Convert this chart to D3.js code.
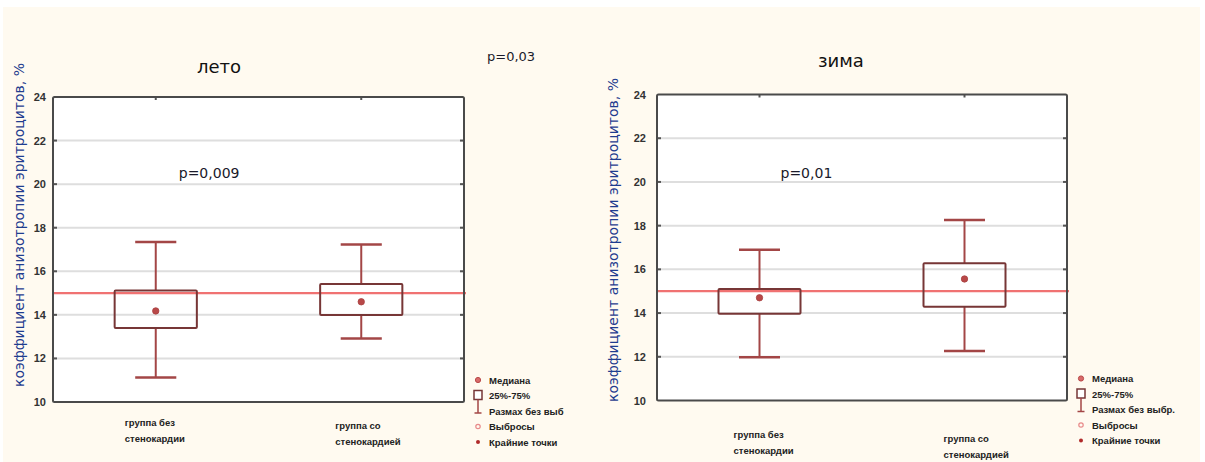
<!DOCTYPE html>
<html>
<head>
<meta charset="utf-8">
<script src="https://cdn.jsdelivr.net/npm/d3@7"></script>
<style>
  html, body { margin: 0; padding: 0; background: #ffffff; }
  svg { display: block; }
</style>
</head>
<body>
<svg id="chart" width="1205" height="462"></svg>
<script>
// ---- data ----
const categories = ["группа без стенокардии", "группа со стенокардией"];
const categoryLines = [["группа без", "стенокардии"], ["группа со", "стенокардией"]];

// summer (лето)
const summerMin    = [11.12, 12.91];
const summerQ1     = [13.40, 13.99];
const summerMedian = [14.18, 14.60];
const summerQ3     = [15.12, 15.42];
const summerMax    = [17.35, 17.23];

// winter (зима)
const winterMin    = [11.98, 12.27];
const winterQ1     = [13.97, 14.29];
const winterMedian = [14.70, 15.56];
const winterQ3     = [15.10, 16.28];
const winterMax    = [16.90, 18.26];

const referenceLevel = 15;
const yDomain = [10, 24];
const yTicks = [10, 12, 14, 16, 18, 20, 22, 24];
const yLabel = "коэффициент анизотропии эритроцитов, %";
const legendLabelsSummer = ["Медиана", "25%-75%", "Размах без выб", "Выбросы", "Крайние точки"];
const legendLabelsWinter = ["Медиана", "25%-75%", "Размах без выбр.", "Выбросы", "Крайние точки"];
const panelTitles = ["лето", "зима"];
const pInside = ["p=0,009", "p=0,01"];
const pBetween = "p=0,03";

// ---- styling ----
const C = {
  page: "#fffaf0",
  frame: "#4a4a4a",
  grid: "#dedede",
  box: "#773636",
  whisker: "#a34646",
  median: "#b84848",
  ref: "#f07272",
  axisLabel: "#1f3d8f",
};

const svg = d3.select("#chart");

// page background
svg.append("rect").attr("x", 3).attr("y", 7).attr("width", 1197).attr("height", 455).attr("fill", C.page);

function drawPanel(cfg) {
  const g = svg.append("g");
  const x = d3.scalePoint().domain(categories).range([cfg.x0, cfg.x1]).padding(0.5);
  const y = d3.scaleLinear().domain(yDomain).range([cfg.y1, cfg.y0]);
  const boxW = (cfg.x1 - cfg.x0) * 0.2;
  const capW = boxW * 0.5;

  const stats = categories.map((c, i) => ({
    cat: c, min: cfg.min[i], q1: cfg.q1[i], med: cfg.median[i], q3: cfg.q3[i], max: cfg.max[i]
  }));

  // plot area
  g.append("rect").attr("x", cfg.x0).attr("y", cfg.y0)
    .attr("width", cfg.x1 - cfg.x0).attr("height", cfg.y1 - cfg.y0).attr("fill", "#ffffff");

  // gridlines
  g.selectAll(".grid").data(yTicks.slice(1, -1)).join("line")
    .attr("x1", cfg.x0).attr("x2", cfg.x1)
    .attr("y1", d => y(d)).attr("y2", d => y(d))
    .attr("stroke", C.grid).attr("stroke-width", 2);

  // left axis with ticks
  const axL = g.append("g").attr("transform", `translate(${cfg.x0},0)`)
    .call(d3.axisLeft(y).tickValues(yTicks).tickSize(0).tickPadding(cfg.tickGap).tickFormat(d3.format("d")));
  axL.select(".domain").remove();
  axL.selectAll("text")
    .attr("font-family", "'Liberation Sans Narrow', 'Liberation Sans', Arial, sans-serif")
    .attr("font-weight", "bold").attr("font-size", 11).attr("fill", "#333");

  // inner tick marks on left/right edges
  [cfg.x0, cfg.x1].forEach((ex, k) => {
    g.selectAll(null).data(yTicks.slice(1, -1)).join("line")
      .attr("x1", ex).attr("x2", ex + (k === 0 ? 4 : -4))
      .attr("y1", d => y(d)).attr("y2", d => y(d))
      .attr("stroke", "#555").attr("stroke-width", 2);
  });
  // top tick marks at categories
  g.selectAll(null).data(categories).join("line")
    .attr("x1", d => x(d)).attr("x2", d => x(d))
    .attr("y1", cfg.y0).attr("y2", cfg.y0 + 3)
    .attr("stroke", "#555").attr("stroke-width", 2);

  // reference line
  g.append("line").attr("x1", cfg.x0).attr("x2", cfg.x1 + 2)
    .attr("y1", y(referenceLevel)).attr("y2", y(referenceLevel))
    .attr("stroke", C.ref).attr("stroke-width", 2.2);

  // whiskers
  const bx = g.selectAll(".bx").data(stats).join("g");
  bx.append("line").attr("x1", d => x(d.cat)).attr("x2", d => x(d.cat))
    .attr("y1", d => y(d.max)).attr("y2", d => y(d.q3))
    .attr("stroke", C.whisker).attr("stroke-width", 2);
  bx.append("line").attr("x1", d => x(d.cat)).attr("x2", d => x(d.cat))
    .attr("y1", d => y(d.q1)).attr("y2", d => y(d.min))
    .attr("stroke", C.whisker).attr("stroke-width", 2);
  bx.append("line").attr("x1", d => x(d.cat) - capW / 2).attr("x2", d => x(d.cat) + capW / 2)
    .attr("y1", d => y(d.max)).attr("y2", d => y(d.max))
    .attr("stroke", C.whisker).attr("stroke-width", 2.5);
  bx.append("line").attr("x1", d => x(d.cat) - capW / 2).attr("x2", d => x(d.cat) + capW / 2)
    .attr("y1", d => y(d.min)).attr("y2", d => y(d.min))
    .attr("stroke", C.whisker).attr("stroke-width", 2.5);
  // boxes
  bx.append("rect").attr("x", d => x(d.cat) - boxW / 2).attr("width", boxW)
    .attr("y", d => y(d.q3)).attr("height", d => y(d.q1) - y(d.q3))
    .attr("fill", "none").attr("stroke", C.box).attr("stroke-width", 2).attr("rx", 1);
  // medians
  bx.append("circle").attr("cx", d => x(d.cat)).attr("cy", d => y(d.med)).attr("r", 3.2)
    .attr("fill", C.median).attr("stroke", "#a84040").attr("stroke-width", 0.8);

  // frame
  g.append("rect").attr("x", cfg.x0).attr("y", cfg.y0)
    .attr("width", cfg.x1 - cfg.x0).attr("height", cfg.y1 - cfg.y0)
    .attr("fill", "none").attr("stroke", C.frame).attr("stroke-width", 2).attr("rx", 1.5);

  // y axis title
  g.append("text")
    .attr("transform", `translate(${cfg.yLabelX},${cfg.yLabelY}) rotate(-90)`)
    .attr("text-anchor", "middle").attr("dominant-baseline", "middle")
    .attr("font-family", "'DejaVu Sans', sans-serif").attr("font-size", 14)
    .attr("fill", C.axisLabel).text(yLabel);

  // panel title
  g.append("text").attr("x", cfg.titleX).attr("y", cfg.titleY)
    .attr("font-family", "'DejaVu Sans', sans-serif").attr("font-size", 18)
    .attr("fill", "#111").text(cfg.title);

  // p-value inside plot
  g.append("text").attr("x", x(categories[0]) + cfg.pDx).attr("y", cfg.y0 + cfg.pDy)
    .attr("font-family", "'DejaVu Sans', sans-serif").attr("font-size", 14)
    .attr("fill", "#1a1a2a").text(cfg.pText);

  // category labels
  categoryLines.forEach((lines, i) => {
    const off = cfg.catLabel[i];
    const t = g.append("text")
      .attr("font-family", "'Liberation Sans', Arial, sans-serif")
      .attr("font-weight", "bold").attr("font-size", 9.5).attr("fill", "#222");
    lines.forEach((ln, j) => {
      t.append("tspan").attr("x", x(categories[i]) + off.dx).attr("y", off.y + j * 16).text(ln);
    });
  });

  // legend
  const lx = cfg.x1 + 14, ly = cfg.y1 - 22, step = 15.5;
  const lg = g.append("g");
  lg.append("circle").attr("cx", lx).attr("cy", ly).attr("r", 2.6)
    .attr("fill", "#d86a6a").attr("stroke", "#b84848").attr("stroke-width", 1);
  lg.append("rect").attr("x", lx - 4).attr("y", ly + step - 5).attr("width", 8).attr("height", 9)
    .attr("fill", "#fff").attr("stroke", C.box).attr("stroke-width", 1.5);
  lg.append("line").attr("x1", lx).attr("x2", lx).attr("y1", ly + step + 4).attr("y2", ly + 2 * step + 2)
    .attr("stroke", C.whisker).attr("stroke-width", 1.5);
  lg.append("line").attr("x1", lx - 3.5).attr("x2", lx + 3.5).attr("y1", ly + 2 * step + 2).attr("y2", ly + 2 * step + 2)
    .attr("stroke", C.whisker).attr("stroke-width", 1.5);
  lg.append("circle").attr("cx", lx).attr("cy", ly + 3 * step).attr("r", 2.2)
    .attr("fill", "none").attr("stroke", "#e88a8a").attr("stroke-width", 1.2);
  lg.append("circle").attr("cx", lx).attr("cy", ly + 4 * step).attr("r", 2)
    .attr("fill", "#b02a2a");
  lg.selectAll(".lt").data(cfg.legend).join("text")
    .attr("x", lx + 11).attr("y", (d, i) => ly + i * step + 3.5)
    .attr("font-family", "'Liberation Sans', Arial, sans-serif")
    .attr("font-weight", "bold").attr("font-size", 9.5).attr("fill", "#222")
    .text(d => d);
}

drawPanel({
  x0: 53, x1: 464, y0: 97, y1: 402,
  min: summerMin, q1: summerQ1, median: summerMedian, q3: summerQ3, max: summerMax,
  tickGap: 7, yLabelX: 20, yLabelY: 225, title: panelTitles[0], titleX: 197, titleY: 73,
  pText: pInside[0], pDx: 23, pDy: 81,
  catLabel: [{ dx: -31, y: 426 }, { dx: -26, y: 429 }],
  legend: legendLabelsSummer,
});

drawPanel({
  x0: 657, x1: 1067, y0: 94.5, y1: 400.5,
  min: winterMin, q1: winterQ1, median: winterMedian, q3: winterQ3, max: winterMax,
  tickGap: 11, yLabelX: 614, yLabelY: 240, title: panelTitles[1], titleX: 818, titleY: 67,
  pText: pInside[1], pDx: 21, pDy: 83,
  catLabel: [{ dx: -26, y: 438 }, { dx: -21, y: 442 }],
  legend: legendLabelsWinter,
});

// p-value between seasons
svg.append("text").attr("x", 487).attr("y", 61)
  .attr("font-family", "'DejaVu Sans', sans-serif").attr("font-size", 13)
  .attr("fill", "#1a1a2a").text(pBetween);
</script>
</body>
</html>
